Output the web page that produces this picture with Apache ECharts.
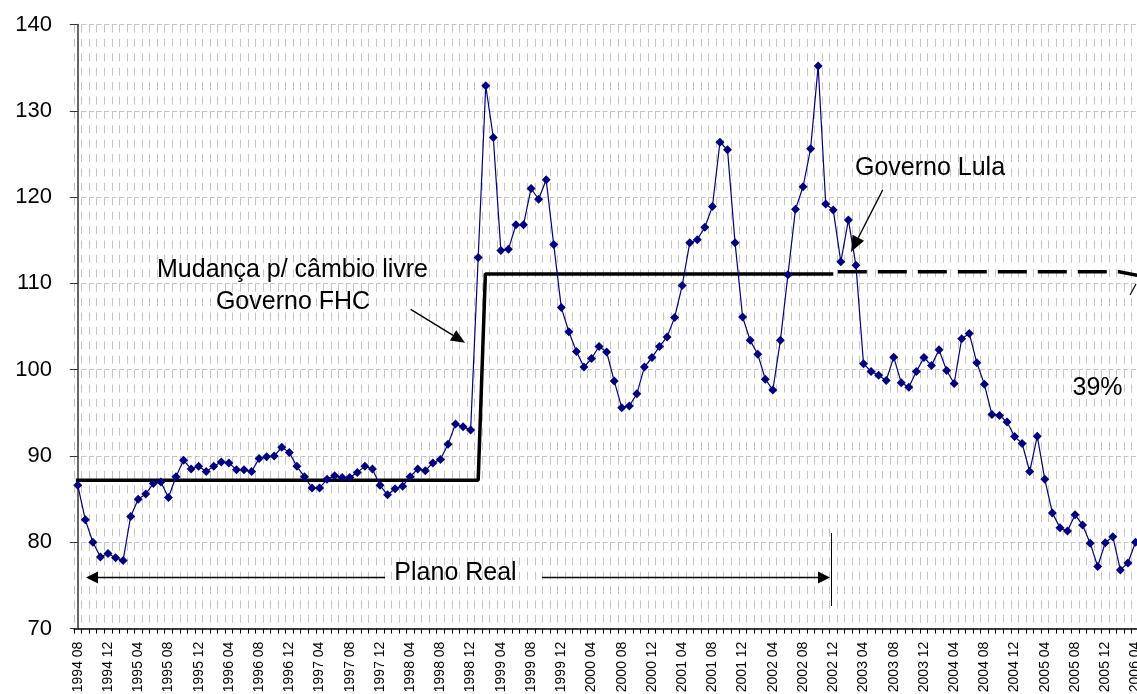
<!DOCTYPE html>
<html>
<head>
<meta charset="utf-8">
<script src="https://cdn.jsdelivr.net/npm/echarts@6/dist/echarts.min.js"></script>
<style>
html,body{margin:0;padding:0;background:#fff;}
#chart{width:1137px;height:694px;}
</style>
</head>
<body>
<div id="chart"></div>
<script>
// ---- data ----
const startYear = 1994, startMonth = 8, monthCount = 141;
const categories = [];
for (let i = 0; i < monthCount; i++) {
  const m = startMonth - 1 + i;
  const y = startYear + Math.floor(m / 12);
  const mm = (m % 12) + 1;
  categories.push(y + ' ' + (mm < 10 ? '0' + mm : '' + mm));
}
const exchangeIndex = [
  86.6, 82.6, 80.0, 78.3, 78.7, 78.2, 77.9, 83.0, 85.0, 85.6,
  86.8, 87.0, 85.2, 87.6, 89.5, 88.5, 88.8, 88.2, 88.8, 89.3,
  89.2, 88.4, 88.4, 88.2, 89.7, 89.9, 90.0, 91.0, 90.4, 88.8,
  87.6, 86.3, 86.3, 87.3, 87.7, 87.5, 87.5, 88.1, 88.8, 88.5,
  86.6, 85.5, 86.2, 86.5, 87.6, 88.5, 88.3, 89.2, 89.6, 91.35,
  93.7, 93.4, 93.0, 113.0, 132.9, 126.9, 113.8, 113.95, 116.8, 116.8,
  121.0, 119.75, 122.0, 114.5, 107.2, 104.4, 102.1, 100.3, 101.3, 102.7,
  102.05, 98.7, 95.6, 95.8, 97.2, 100.3, 101.4, 102.7, 103.8, 106.05,
  109.75, 114.7, 115.07, 116.5, 118.9, 126.35, 125.5, 114.7, 106.1, 103.4,
  101.8, 98.9, 97.65, 103.4, 111.0, 118.6, 121.2, 125.6, 135.2, 119.2,
  118.5, 112.5, 117.35, 112.1, 100.7, 99.8, 99.35, 98.75, 101.45, 98.5,
  97.96, 99.8, 101.4, 100.5, 102.3, 99.9, 98.4, 103.6, 104.2, 100.8,
  98.3, 94.8, 94.7, 93.95, 92.25, 91.45, 88.2, 92.3, 87.3, 83.4,
  81.7, 81.3, 83.2, 82.0, 79.9, 77.2, 79.95, 80.65, 76.8, 77.6,
  80.0
];
// average level lines: [month position, level]
const levelSolid = [[-0.25, 87.2], [53.0, 87.2], [53.95, 111.1], [100.0, 111.1]];
const levelDashed = [[100.6, 111.35], [137.8, 111.35], [140.45, 110.9]];
const yTicks = { min: 70, max: 140, interval: 10 };

// ---- helpers ----
function arrow(x1, y1, x2, y2, len, halfW, width) {
  const dx = x2 - x1, dy = y2 - y1, d = Math.sqrt(dx * dx + dy * dy);
  const ux = dx / d, uy = dy / d;
  const bx = x2 - ux * len, by = y2 - uy * len;
  const px = -uy, py = ux;
  return [
    { type: 'line', silent: true, z: 100, shape: { x1: x1, y1: y1, x2: bx, y2: by }, style: { stroke: '#000', lineWidth: width || 1.4, lineDash: null } },
    { type: 'polygon', silent: true, z: 100, shape: { points: [[x2, y2], [bx + px * halfW, by + py * halfW], [bx - px * halfW, by - py * halfW]] }, style: { fill: '#000' } }
  ];
}
function label(text, x, y, size) {
  return { type: 'text', silent: true, z: 100,
    style: { text: text, x: x, y: y, font: size + 'px "Liberation Sans", Arial, sans-serif', fill: '#000',
      textAlign: 'center', textVerticalAlign: 'middle', align: 'center', verticalAlign: 'middle' } };
}

const FONT = '"Liberation Sans", Arial, sans-serif';
const gridBox = { left: 74, top: 24.5, width: 7.555 * monthCount, height: 604.1, outerBoundsMode: 'none', containLabel: false };

const graphics = [].concat(
  [label('Mudança p/ câmbio livre', 292.5, 270, 25)],
  [label('Governo FHC', 293, 302.5, 25)],
  arrow(410.7, 309.3, 465, 342.7, 14, 6),
  [label('Governo Lula', 930, 168, 25)],
  arrow(882.7, 190, 851, 252, 16, 6.5),
  [label('39%', 1097.5, 388, 25)],
  [label('Plano Real', 455.5, 573, 25)],
  arrow(385, 577.5, 86, 577.5, 12, 6),
  arrow(542, 577.5, 830, 577.5, 12, 6),
  [{ type: 'line', silent: true, z: 100, shape: { x1: 831.5, y1: 533, x2: 831.5, y2: 606 }, style: { stroke: '#000', lineWidth: 1 } },
   { type: 'line', silent: true, z: 100, shape: { x1: 1130, y1: 295, x2: 1136, y2: 284 }, style: { stroke: '#000', lineWidth: 1.2 } }]
);

const chart = echarts.init(document.getElementById('chart'));
chart.setOption({
  animation: false,
  backgroundColor: '#fff',
  grid: gridBox,
  xAxis: [
    {
      type: 'category', data: categories, boundaryGap: true,
      axisLine: { lineStyle: { color: '#000', width: 1.5 } },
      axisTick: { show: true, interval: 0, length: 5, lineStyle: { color: '#000', width: 1 } },
      axisLabel: { interval: 3, rotate: 90, margin: 13, color: '#000', fontSize: 14, fontFamily: FONT },
      splitLine: { show: true, interval: 0, lineStyle: { color: '#c4c4c4', width: 1, type: [8, 6.4] } }
    },
    { type: 'value', min: -0.5, max: monthCount - 0.5, show: false }
  ],
  yAxis: {
    type: 'value', min: yTicks.min, max: yTicks.max, interval: yTicks.interval,
    axisLine: { show: true, lineStyle: { color: '#333', width: 1.5 } },
    axisTick: { show: true, length: 8, lineStyle: { color: '#333' } },
    axisLabel: { color: '#000', fontSize: 22, fontFamily: FONT, margin: 22 },
    splitLine: { show: true, lineStyle: { color: '#c4c4c4', width: 1, type: [5, 2.55] } }
  },
  series: [
    { type: 'line', xAxisIndex: 1, data: levelSolid, symbol: 'none', silent: true,
      lineStyle: { color: '#000', width: 3.5 }, z: 3 },
    { type: 'line', xAxisIndex: 1, data: levelDashed, symbol: 'none', silent: true,
      lineStyle: { color: '#000', width: 3.5, type: [29, 11] }, z: 3 },
    { type: 'line', xAxisIndex: 0, data: exchangeIndex, symbol: 'diamond', symbolSize: 9, showAllSymbol: true,
      itemStyle: { color: '#000080' }, lineStyle: { color: '#000080', width: 1.2 }, z: 5 }
  ],
  graphic: { elements: graphics }
});
</script>
</body>
</html>
